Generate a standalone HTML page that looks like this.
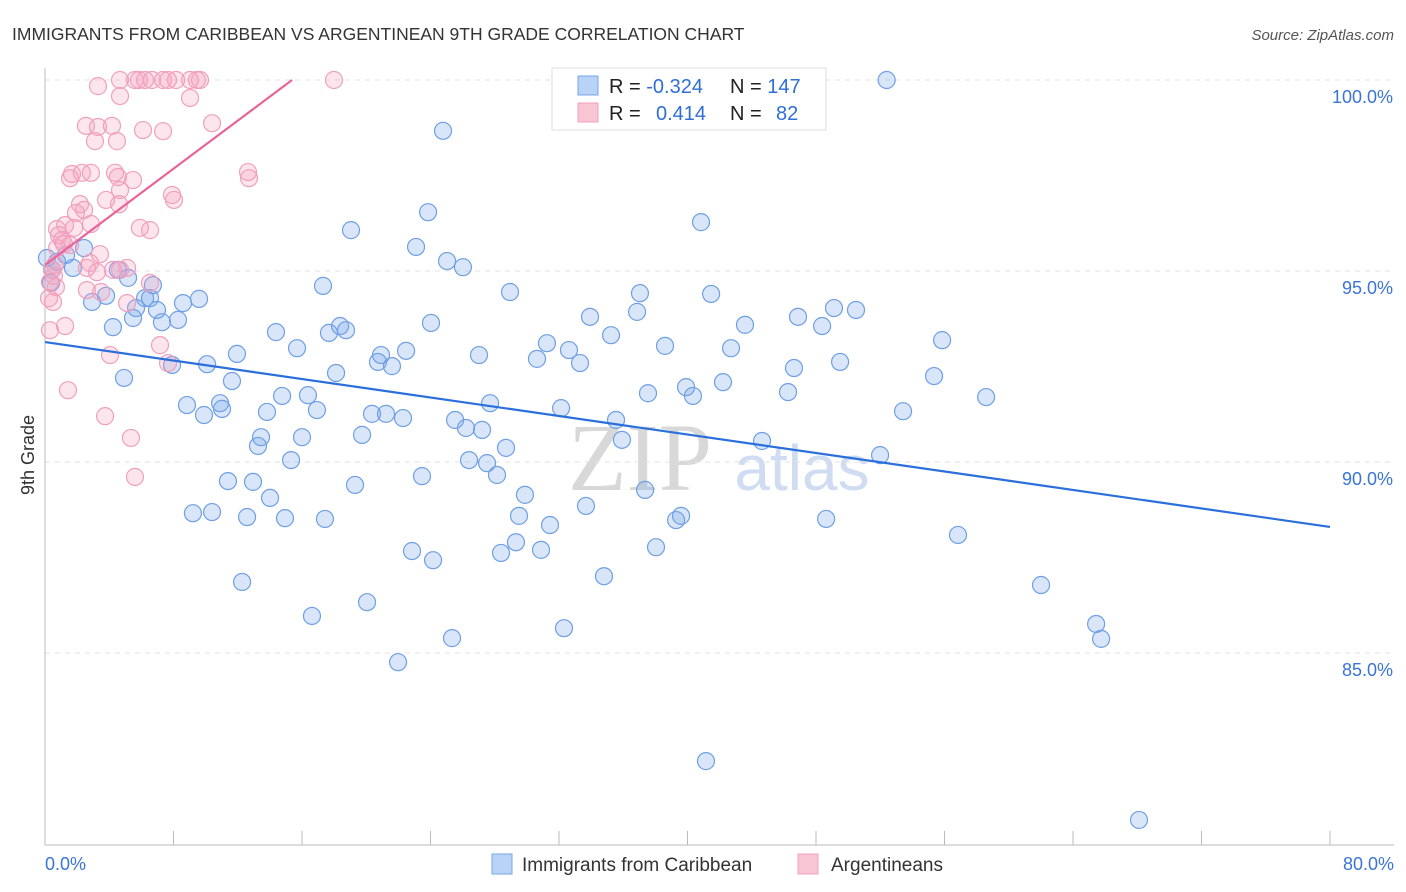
<!DOCTYPE html>
<html><head><meta charset="utf-8"><style>
body{margin:0;background:#fff;font-family:"Liberation Sans",sans-serif;}
svg{display:block}
</style></head><body>
<svg id="chart" width="1406" height="892" xmlns="http://www.w3.org/2000/svg">
<text x="12" y="40" font-size="17.5" fill="#333">IMMIGRANTS FROM CARIBBEAN VS ARGENTINEAN 9TH GRADE CORRELATION CHART</text>
<text x="1394" y="40" font-size="15" fill="#555" font-style="italic" text-anchor="end">Source: ZipAtlas.com</text>
<text x="640" y="490" font-size="96" fill="#d8d8d8" font-family="Liberation Serif" text-anchor="middle">ZIP</text>
<text x="802" y="490" font-size="64" fill="#cfdcf2" text-anchor="middle">atlas</text>
<g id="grid"></g>
<g id="axes"></g>
<g id="marks"></g>
<text transform="translate(34,455) rotate(-90)" font-size="18" fill="#333" text-anchor="middle">9th Grade</text>
<text x="45" y="870" font-size="18" fill="#3a74d6">0.0%</text>
<text x="1394" y="870" font-size="18" fill="#3a74d6" text-anchor="end">80.0%</text>
<g>
<rect x="552" y="68" width="274" height="62" fill="#fff" stroke="#ddd"/>
<rect x="578" y="76" width="20" height="19" fill="#b8d3f5" stroke="#7aa6e6"/>
<rect x="578" y="103" width="20" height="19" fill="#f9c6d6" stroke="#f0a0bc"/>
<text x="609" y="93" font-size="20" fill="#222">R = <tspan fill="#2f6fd6">-0.324</tspan></text>
<text x="730" y="93" font-size="20" fill="#222">N = <tspan fill="#2f6fd6">147</tspan></text>
<text x="609" y="120" font-size="20" fill="#222">R = <tspan fill="#2f6fd6" x="656">0.414</tspan></text>
<text x="730" y="120" font-size="20" fill="#222">N = <tspan fill="#2f6fd6" x="776">82</tspan></text>
</g>
<g><rect x="492" y="854" width="20" height="20" fill="#b8d3f5" stroke="#7aa6e6"/><text x="522" y="871" font-size="19" fill="#333">Immigrants from Caribbean</text></g>
<g><rect x="798" y="854" width="20" height="20" fill="#f9c6d6" stroke="#f0a0bc"/><text x="831" y="871" font-size="19" fill="#333">Argentineans</text></g>
</svg>
<script>
const yTicks=[100,95,90,85];
const yTickLabels=["100.0%","95.0%","90.0%","85.0%"];
const xTicks=[0,8,16,24,32,40,48,56,64,72,80];
const blueX=[52.4,24.78,23.85,40.84,19.05,23.10,25.03,26.02,2.43,1.31,0.12,0.75,0.44,1.74,4.54,5.17,0.37,2.93,3.80,6.23,6.54,6.72,8.59,9.59,17.31,28.95,37.04,41.47,7.28,8.28,5.48,4.23,5.67,6.97,14.38,15.69,17.68,18.37,18.74,24.03,33.93,36.86,43.58,46.88,48.38,49.12,50.49,55.85,11.95,10.09,7.91,4.92,11.64,18.12,20.92,20.73,21.60,22.48,27.02,30.63,31.25,32.62,33.31,35.24,38.60,42.71,46.63,49.50,55.35,8.84,10.90,11.02,9.90,13.82,14.76,16.37,16.93,20.36,21.23,22.29,25.53,26.21,27.21,27.71,32.13,35.55,37.54,39.91,40.34,42.21,46.26,53.42,58.59,13.45,13.26,16.00,15.32,19.74,26.40,27.52,28.70,28.14,35.92,44.64,51.99,11.39,12.95,14.01,19.30,23.47,29.88,37.36,9.21,10.40,12.58,14.94,17.43,29.51,31.44,33.68,39.29,39.60,48.63,56.84,22.85,24.16,28.39,29.32,30.88,38.04,12.27,34.80,16.62,20.05,25.34,32.31,62.01,65.44,65.75,21.98,41.15,68.11];
const blueY=[100,98.67,96.54,96.28,96.07,95.63,95.26,95.10,95.60,95.42,95.34,95.24,95.03,95.08,95.03,94.82,94.69,94.19,94.35,94.29,94.29,94.63,94.16,94.27,94.61,94.45,94.42,94.40,93.66,93.72,93.77,93.53,94.03,93.98,93.40,92.98,93.38,93.56,93.45,93.64,93.80,93.93,93.59,93.80,93.56,94.03,93.98,93.19,92.83,92.56,92.54,92.20,92.12,92.33,92.80,92.62,92.51,92.91,92.80,92.70,93.11,92.93,92.59,93.32,93.04,92.98,92.46,92.62,92.25,91.49,91.54,91.39,91.23,91.31,91.73,91.75,91.36,91.26,91.26,91.15,91.10,90.89,90.84,91.54,91.41,91.10,91.80,91.96,91.73,92.09,91.83,91.33,91.70,90.65,90.42,90.65,90.05,90.71,90.05,89.97,90.37,89.66,90.58,90.55,90.18,89.50,89.48,89.06,89.40,89.63,89.14,89.27,88.66,88.69,88.56,88.53,88.51,88.59,88.35,88.85,88.48,88.59,88.51,88.09,87.67,87.43,87.62,87.90,87.70,87.77,86.86,87.01,85.97,86.33,85.39,85.65,86.78,85.76,85.37,84.76,82.17,80.63];
const pinkX=[3.30,4.67,5.60,5.85,6.23,6.66,7.35,7.66,8.16,9.03,9.46,9.65,17.99,4.67,9.03,10.40,2.55,3.30,4.17,6.10,7.35,3.11,4.48,1.68,1.56,2.30,2.86,4.36,4.54,5.48,12.64,12.70,4.67,7.91,8.03,3.80,4.61,2.18,2.43,1.93,1.25,0.75,0.87,1.81,2.86,5.91,6.54,1.06,1.56,0.75,3.42,2.80,2.61,5.11,0.44,0.56,3.24,4.23,0.31,0.68,2.61,3.49,6.54,5.11,0.25,0.50,1.25,0.31,7.16,4.05,7.66,1.43,3.74,5.35,5.60,4.67,1.18,0.62];
const pinkY=[99.84,100,100,100,100,100,100,100,100,100,100,100,100,99.58,99.53,98.87,98.80,98.77,98.80,98.69,98.66,98.40,98.40,97.54,97.43,97.57,97.57,97.57,97.46,97.38,97.59,97.43,97.12,96.99,96.86,96.86,96.75,96.75,96.60,96.52,96.20,96.10,95.94,96.13,96.23,96.13,96.07,95.81,95.68,95.60,95.44,95.21,95.08,95.08,95.03,94.87,94.97,95.03,94.71,94.58,94.50,94.45,94.69,94.16,94.29,94.19,93.56,93.45,93.06,92.80,92.59,91.88,91.20,90.63,89.61,95.03,95.71,95.16];
const blueTrend=[[0,93.14],[80,88.30]];
const pinkTrend=[[0,95.16],[15.38,100]];
const NS="http://www.w3.org/2000/svg";
const X0=45,X1=1330,Y100=80,PPU=38.2;
function sx(v){return X0+(v/80)*(X1-X0);}
function sy(v){return Y100+(100-v)*PPU;}
function mk(tag,attrs,parent){const e=document.createElementNS(NS,tag);for(const k in attrs)e.setAttribute(k,attrs[k]);parent.appendChild(e);return e;}
const grid=document.getElementById('grid'),axes=document.getElementById('axes'),marks=document.getElementById('marks');
yTicks.forEach((t,i)=>{
  const l=mk('line',{x1:X0,x2:1394,y1:sy(t),y2:sy(t),stroke:'#e2e2e2','stroke-dasharray':'5,5'},grid);
  
  
  const tx=mk('text',{x:1393,y:sy(t)+23,'font-size':18,fill:'#3a74d6','text-anchor':'end'},grid);
  tx.textContent=yTickLabels[i];
  
  
});
const ya=mk('line',{x1:X0,x2:X0,y1:68,y2:845,stroke:'#bbb'},axes);


const xa=mk('line',{x1:X0,x2:1394,y1:845,y2:845,stroke:'#bbb'},axes);


xTicks.forEach(t=>{
  const l=mk('line',{x1:sx(t),x2:sx(t),y1:831,y2:845,stroke:'#bbb'},axes);
  
  
});
for(let i=0;i<blueX.length;i++){
  const c=mk('circle',{cx:sx(blueX[i]),cy:sy(blueY[i]),r:8.5,fill:'rgba(120,165,235,0.28)',stroke:'#6f9fe4','stroke-width':1.2},marks);
  
  
}
for(let i=0;i<pinkX.length;i++){
  const c=mk('circle',{cx:sx(pinkX[i]),cy:sy(pinkY[i]),r:8.5,fill:'rgba(245,160,190,0.28)',stroke:'#f0a0bc','stroke-width':1.2},marks);
  
  
}
const bl=mk('line',{x1:sx(blueTrend[0][0]),y1:sy(blueTrend[0][1]),x2:sx(blueTrend[1][0]),y2:sy(blueTrend[1][1]),stroke:'#2a6fdb','stroke-width':2.2},marks);


const pl=mk('line',{x1:sx(pinkTrend[0][0]),y1:sy(pinkTrend[0][1]),x2:sx(pinkTrend[1][0]),y2:sy(pinkTrend[1][1]),stroke:'#e8649a','stroke-width':2.2},marks);


</script>
</body></html>
